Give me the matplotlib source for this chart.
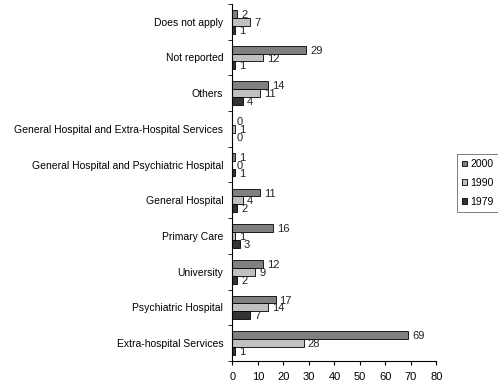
import numpy as np
import matplotlib.pyplot as plt

plt.rcParams['font.family'] = ['Liberation Sans', 'DejaVu Sans']

categories = ["Extra-hospital Services", "Psychiatric Hospital", "University",
              "Primary Care", "General Hospital",
              "General Hospital and Psychiatric Hospital",
              "General Hospital and Extra-Hospital Services",
              "Others", "Not reported", "Does not apply"]
v2000 = [69, 17, 12, 16, 11, 1, 0, 14, 29, 2]
v1990 = [28, 14, 9, 1, 4, 0, 1, 11, 12, 7]
v1979 = [1, 7, 2, 3, 2, 1, 0, 4, 1, 1]

fig = plt.figure(figsize=(4.98, 3.89), dpi=100)
ax = fig.add_axes([0.4665, 0.072, 0.410, 0.918])

y = np.arange(len(categories))
h = 0.22
series = [(v2000, "2000", "#808080", h), (v1990, "1990", "#c0c0c0", 0), (v1979, "1979", "#333333", -h)]
for vals, lab, col, off in series:
    bars = ax.barh(y + off, vals, height=h, color=col, edgecolor="black", linewidth=0.6, label=lab)
    for b, v in zip(bars, vals):
        ax.text(b.get_width() + 1.5, b.get_y() + b.get_height() / 2 - 0.03, str(v),
                va="center", ha="left", fontsize=8, color="#222222")

ax.set_xlim(0, 80)
ax.set_ylim(-0.5, len(categories) - 0.5)
ax.set_xticks(range(0, 81, 10))
ax.set_yticks(y)
ax.set_yticklabels(categories, fontsize=7.5)
ax.set_yticks(np.arange(-0.5, len(categories), 1), minor=True)
ax.tick_params(axis="y", which="major", length=0, pad=6.5)
ax.tick_params(axis="y", which="minor", length=3, direction="out")
ax.tick_params(axis="x", labelsize=8, length=3, direction="out", pad=5)
ax.spines["top"].set_visible(False)
ax.spines["right"].set_visible(False)

leg = ax.legend(loc="upper left", bbox_to_anchor=(457 / 498, 1 - 154 / 389),
                bbox_transform=fig.transFigure, borderaxespad=0,
                fontsize=7.5, frameon=True, fancybox=False, edgecolor="#444444",
                handlelength=0.5, handleheight=0.5, handletextpad=0.25,
                borderpad=0.5, labelspacing=0.85)
leg.get_frame().set_linewidth(0.6)

fig.savefig("out.png", dpi=100)
